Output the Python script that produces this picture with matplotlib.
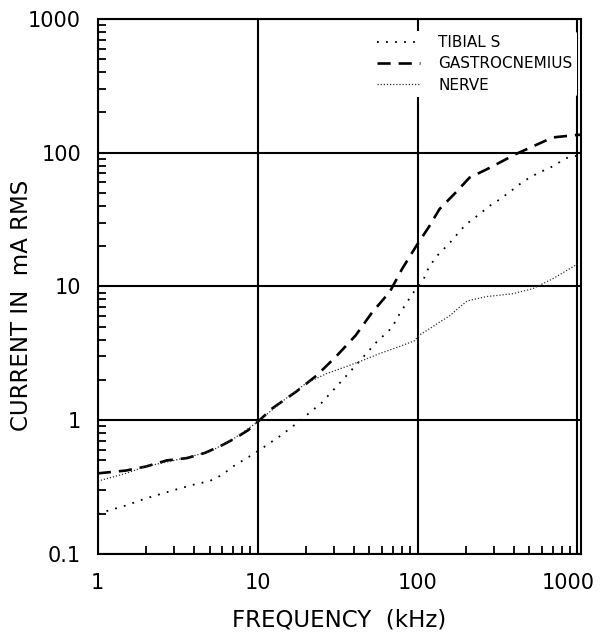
import numpy as np
import matplotlib.pyplot as plt
from matplotlib.ticker import LogLocator, FixedLocator, NullFormatter
from matplotlib.transforms import ScaledTranslation

plt.rcParams['font.family'] = ['DejaVu Sans']

# values
tib_f = [1, 1.5, 2, 3, 4, 5, 6, 7, 9, 11.4, 14, 17, 25, 34, 45, 55, 69, 77, 87, 96,
         108, 118, 133, 158, 200, 243, 282, 324, 375, 434, 500, 575, 700, 850, 1030]
tib_i = [0.20, 0.23, 0.26, 0.30, 0.33, 0.35, 0.39, 0.45, 0.54, 0.65, 0.77, 0.92, 1.34, 2.0, 2.9, 3.8, 4.9, 6.2, 7.8, 9.3,
         11, 14, 17, 21, 29, 34.6, 40, 44.5, 50.6, 58, 65, 71, 79, 91, 96]

gas_f = [1, 1.5, 2, 2.7, 3.6, 4.7, 6, 7.2, 8.7, 10, 12.4, 17.5, 23.4, 31, 41, 52, 67, 80, 98,
         118, 137, 175, 211, 270, 324, 414, 523, 700, 1000, 1080]
gas_i = [0.40, 0.42, 0.45, 0.50, 0.52, 0.57, 0.65, 0.73, 0.84, 0.97, 1.23, 1.64, 2.16, 3.0, 4.3, 6.4, 9.1, 13.5, 20,
         28, 37.8, 51, 65, 75, 84, 98, 111, 130, 136, 136]

nrv_f = [1, 1.5, 2, 3, 5, 7, 10, 15, 20, 27, 36, 45, 58, 77, 96, 102, 118, 137, 158, 183, 205,
         270, 390, 523, 700, 1000]
nrv_i = [0.35, 0.40, 0.45, 0.50, 0.58, 0.72, 0.97, 1.45, 1.88, 2.23, 2.52, 2.79, 3.15, 3.55, 3.93, 4.3, 4.8, 5.4, 6.0, 7.0, 7.8,
         8.4, 8.8, 9.6, 11.4, 14.7]

xticks = [1, 10, 100, 1000]
xlabels = ['1', '10', '100', '1000']
yticks = [0.1, 1, 10, 100, 1000]
ylabels = ['0.1', '1', '10', '100', '1000']

fig = plt.figure(figsize=(6, 6.33), dpi=100)
ax = fig.add_axes([0.163, 0.125, 0.805, 0.845])

ax.plot(tib_f, tib_i, color='black', lw=1.3, linestyle=(0, (1, 4)), label='TIBIAL S')
ax.plot(gas_f, gas_i, color='black', lw=1.9, linestyle=(0, (5, 3)), label='GASTROCNEMIUS')
ax.plot(nrv_f, nrv_i, color='#333333', lw=0.9, linestyle=(0, (1, 1.5)), label='NERVE')

ax.set_xscale('log')
ax.set_yscale('log')
ax.set_xlim(1, 1050)
ax.set_ylim(0.1, 1000)

ax.xaxis.set_major_locator(FixedLocator(xticks))
ax.set_xticklabels(xlabels)
ax.yaxis.set_major_locator(FixedLocator(yticks))
ax.set_yticklabels(ylabels)
ax.xaxis.set_minor_locator(LogLocator(base=10, subs=np.arange(2, 10)))
ax.yaxis.set_minor_locator(LogLocator(base=10, subs=np.arange(2, 10)))
ax.xaxis.set_minor_formatter(NullFormatter())
ax.yaxis.set_minor_formatter(NullFormatter())

ax.tick_params(which='major', length=0, labelsize=15)
ax.tick_params(axis='x', which='major', pad=14)
ax.tick_params(axis='y', which='major', pad=12)
ax.tick_params(which='minor', direction='in', length=6, width=1.3)
ax.grid(True, which='major', color='black', lw=1.5)

for s in ax.spines.values():
    s.set_linewidth(1.5)
    s.set_zorder(6)

# nudge the "1000" label left so it stays inside the figure
lab = ax.get_xticklabels()[-1]
lab.set_transform(lab.get_transform() + ScaledTranslation(-7 / 72, 0, fig.dpi_scale_trans))

ax.set_xlabel('FREQUENCY  (kHz)', fontsize=16.5)
ax.set_ylabel('CURRENT IN  mA RMS', fontsize=16.5)
ax.xaxis.set_label_coords(0.5, -0.103)
ax.yaxis.set_label_coords(-0.135, 0.464)

leg = ax.legend(loc='upper right', fontsize=11, frameon=True, handlelength=2.8,
                handletextpad=1.2, bbox_to_anchor=(0.992, 0.978), borderaxespad=0,
                labelspacing=0.4, borderpad=0.3)
leg.get_frame().set_facecolor('white')
leg.get_frame().set_edgecolor('none')
leg.get_frame().set_alpha(1)

plt.savefig('out.png', dpi=100)
